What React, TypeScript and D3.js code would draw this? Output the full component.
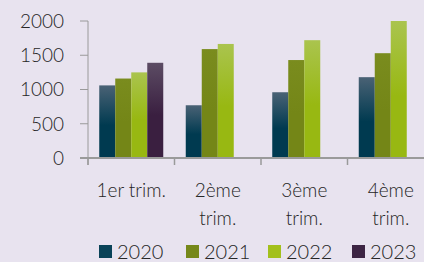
import React, { useRef, useEffect } from 'react';
import * as d3 from 'd3';

const categories = ['1er trim.', '2ème trim.', '3ème trim.', '4ème trim.'];
const years = ['2020', '2021', '2022', '2023'];
const values2020 = [1060, 770, 960, 1180];
const values2021 = [1160, 1590, 1430, 1530];
const values2022 = [1250, 1665, 1720, 2000];
const values2023 = [1390, null, null, null];
const yTicks = [0, 500, 1000, 1500, 2000];

const series = [values2020, values2021, values2022, values2023];

// top / bottom colours of each year's gradient
const gradients = [
  ['#4a6275', '#003a50'],
  ['#7a8c1e', '#748617'],
  ['#aac44e', '#98b812'],
  ['#5c4c64', '#3a1f40'],
];
const swatch = ['#0a4358', '#76881a', '#a3c01c', '#3d2544'];

const App = () => {
  const svgRef = useRef(null);

  useEffect(() => {
    const width = 424;
    const height = 262;
    const svg = d3.select(svgRef.current);
    svg.selectAll('*').remove();

    const margin = { top: 21, left: 88 };
    const plotW = 346;
    const plotH = 137;

    const x = d3.scaleBand().domain(categories).range([margin.left, margin.left + plotW]);
    const x1 = d3.scaleBand().domain(years).range([0, 64]);
    const groupOffset = (x.bandwidth() - 64) / 2;
    const y = d3.scaleLinear().domain([0, 2000]).range([margin.top + plotH, margin.top]);

    svg.append('rect').attr('width', width).attr('height', height).attr('fill', '#e8e3ef');

    const defs = svg.append('defs');
    gradients.forEach((g, i) => {
      const lg = defs.append('linearGradient')
        .attr('id', `grad-${i}`)
        .attr('x1', '0%').attr('x2', '0%')
        .attr('y1', '0%').attr('y2', '100%');
      lg.append('stop').attr('offset', '0%').attr('stop-color', g[0]);
      lg.append('stop').attr('offset', '55%').attr('stop-color', g[1]);
      lg.append('stop').attr('offset', '100%').attr('stop-color', g[1]);
    });

    // bars
    series.forEach((vals, si) => {
      svg.append('g')
        .selectAll('rect')
        .data(vals.map((v, ci) => ({ v, c: categories[ci] })).filter(d => d.v != null))
        .enter().append('rect')
        .attr('x', d => x(d.c) + groupOffset + x1(years[si]))
        .attr('y', d => y(d.v))
        .attr('width', x1.bandwidth())
        .attr('height', d => y(0) - y(d.v))
        .attr('fill', `url(#grad-${si})`);
    });

    const axisColor = '#9a9a9a';
    const font = 'Lato, "Open Sans", sans-serif';

    // y axis
    svg.append('line')
      .attr('x1', margin.left).attr('x2', margin.left)
      .attr('y1', y(2000)).attr('y2', y(0) + 7)
      .attr('stroke', axisColor).attr('stroke-width', 1);
    yTicks.forEach(t => {
      svg.append('line')
        .attr('x1', margin.left - 8).attr('x2', margin.left)
        .attr('y1', y(t)).attr('y2', y(t))
        .attr('stroke', axisColor);
      svg.append('text')
        .attr('x', 64).attr('y', y(t))
        .attr('dy', '0.36em')
        .attr('text-anchor', 'end')
        .attr('font-family', font)
        .attr('font-weight', 300)
        .attr('font-size', 19)
        .attr('fill', '#262626')
        .text(t);
    });

    // x axis
    svg.append('line')
      .attr('x1', margin.left - 8).attr('x2', width)
      .attr('y1', y(0)).attr('y2', y(0))
      .attr('stroke', axisColor).attr('stroke-width', 2);
    categories.forEach(c => {
      svg.append('line')
        .attr('x1', x(c)).attr('x2', x(c))
        .attr('y1', y(0)).attr('y2', y(0) + 7)
        .attr('stroke', axisColor).attr('stroke-width', 1.5);
      const lines = c === categories[0] ? [c] : c.split(' ');
      lines.forEach((ln, li) => {
        svg.append('text')
          .attr('x', x(c) + x.bandwidth() / 2)
          .attr('y', 190 + li * 28)
          .attr('dy', '0.36em')
          .attr('text-anchor', 'middle')
          .attr('font-family', font)
          .attr('font-weight', 300)
          .attr('font-size', 19)
          .attr('fill', '#262626')
          .text(ln);
      });
    });

    // legend
    const legendX = [99, 186, 268, 352];
    years.forEach((yr, i) => {
      svg.append('rect')
        .attr('x', legendX[i]).attr('y', 245)
        .attr('width', 13).attr('height', 13)
        .attr('fill', swatch[i]);
      svg.append('text')
        .attr('x', legendX[i] + 18).attr('y', 252)
        .attr('dy', '0.36em')
        .attr('font-family', font)
        .attr('font-weight', 300)
        .attr('font-size', 20)
        .attr('fill', '#262626')
        .text(yr);
    });
  }, []);

  return (
    <svg ref={svgRef} width={424} height={262}
      style={{ position: 'absolute', left: 0, top: 0, display: 'block' }} />
  );
};

export default App;
